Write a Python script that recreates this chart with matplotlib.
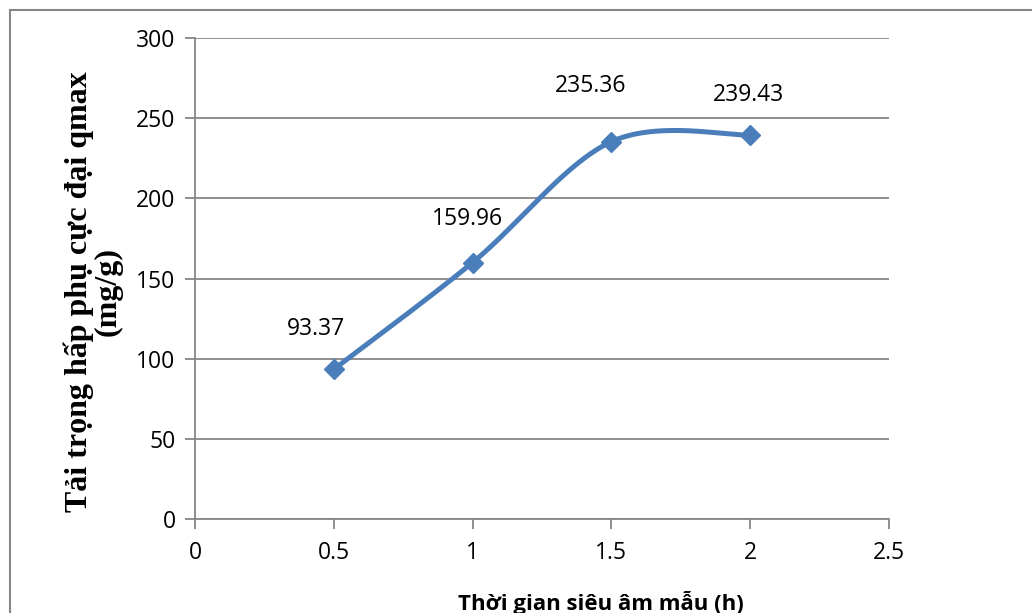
import numpy as np
import matplotlib.pyplot as plt
from matplotlib.patches import Rectangle

# Sonication time (h) vs. maximum adsorption capacity qmax (mg/g)
time_h = [0.5, 1.0, 1.5, 2.0]
qmax = [93.37, 159.96, 235.36, 239.43]
value_labels = ['93.37', '159.96', '235.36', '239.43']

# label offsets in points (dx, dy) relative to each marker
label_offsets = [(-13, 29), (-4, 31), (-15, 40), (-1, 29)]

x_ticks = [0, 0.5, 1, 1.5, 2, 2.5]
y_ticks = [0, 50, 100, 150, 200, 250, 300]

line_color = '#4A7EBB'
grid_color = '#868686'


def smooth_curve(xs, ys, sx, sy, n=60):
    # Bezier smoothing (tension 1/6), done in pixel-like scaled space
    px = np.asarray(xs, float) * sx
    py = np.asarray(ys, float) * sy
    pts = np.column_stack([px, py])
    out = []
    for i in range(len(pts) - 1):
        p0 = pts[max(i - 1, 0)]
        p1 = pts[i]
        p2 = pts[i + 1]
        p3 = pts[min(i + 2, len(pts) - 1)]
        c1 = p1 + (p2 - p0) / 6.0
        c2 = p2 - (p3 - p1) / 6.0
        t = np.linspace(0, 1, n)[:, None]
        seg = ((1 - t) ** 3) * p1 + 3 * ((1 - t) ** 2) * t * c1 \
            + 3 * (1 - t) * t ** 2 * c2 + t ** 3 * p2
        out.append(seg if i == 0 else seg[1:])
    out = np.vstack(out)
    return out[:, 0] / sx, out[:, 1] / sy


fig = plt.figure(figsize=(10.32, 6.13), dpi=100)
ax = fig.add_axes([195 / 1032, 1 - 519 / 613, 694 / 1032, 481 / 613])

cx, cy = smooth_curve(time_h, qmax, 694 / 2.5, 481 / 300)
ax.plot(cx, cy, color=line_color, lw=3.6, solid_capstyle='round', zorder=3)
ax.plot(time_h, qmax, linestyle='none', marker='D', markersize=10,
        color=line_color, zorder=4)

for x, y, lab, (dx, dy) in zip(time_h, qmax, value_labels, label_offsets):
    ax.annotate(lab, (x, y), xytext=(dx, dy), textcoords='offset points',
                ha='center', va='center', fontsize=16.5, family='Open Sans')

ax.set_xlim(0, 2.5)
ax.set_ylim(0, 300)
ax.set_xticks(x_ticks)
ax.set_xticklabels(['0', '0.5', '1', '1.5', '2', '2.5'])
ax.set_yticks(y_ticks)
ax.yaxis.grid(True, color=grid_color, lw=1.3)
ax.set_axisbelow(True)

for side in ['top', 'right']:
    ax.spines[side].set_visible(False)
for side in ['left', 'bottom']:
    ax.spines[side].set_color(grid_color)
    ax.spines[side].set_linewidth(1.3)

ax.tick_params(axis='both', direction='out', length=7, width=1.3,
               color=grid_color, labelsize=16.5)
ax.tick_params(axis='x', pad=9)
ax.tick_params(axis='y', pad=7)
for lab in ax.get_xticklabels() + ax.get_yticklabels():
    lab.set_family('Open Sans')

fig.text(93 / 1032, 1 - 292 / 613, 'Tải trọng hấp phụ cực đại qmax\n(mg/g)',
         rotation=90, ha='center', va='center', multialignment='center',
         fontsize=23, fontweight='bold', family='Liberation Serif',
         linespacing=0.95)

fig.text(601 / 1032, 1 - 603 / 613, 'Thời gian siêu âm mẫu (h)',
         ha='center', va='center', fontsize=16, fontweight='bold',
         family='Open Sans')

# chart area frame
fig.patches.append(Rectangle((10 / 1032, -0.1), 1.2, 0.1 + 1 - 10 / 613,
                             transform=fig.transFigure, fill=False,
                             edgecolor=grid_color, lw=1.5))

fig.savefig('out.png', dpi=100)
